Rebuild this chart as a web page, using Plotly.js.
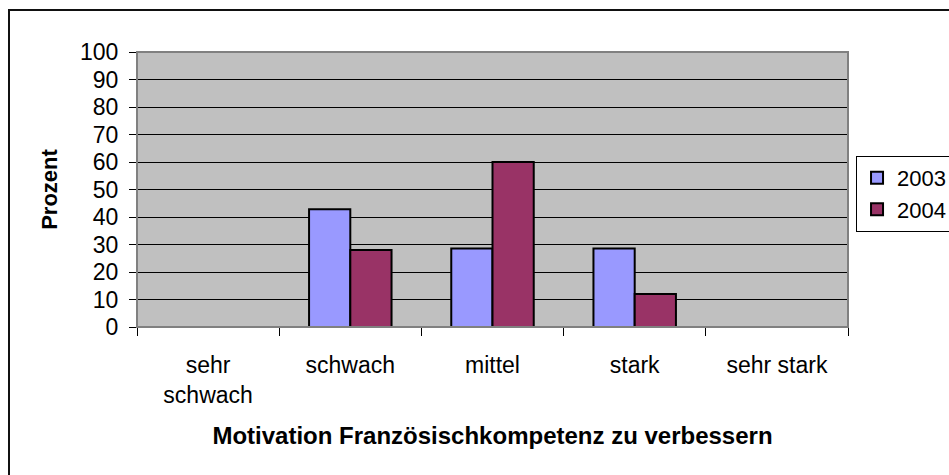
<!DOCTYPE html>
<html>
<head>
<meta charset="utf-8">
<script src="https://cdn.plot.ly/plotly-3.0.1.min.js"></script>
<style>
  html, body { margin: 0; padding: 0; background: #ffffff; overflow: hidden; }
  #frame { position: absolute; left: 8px; top: 9px; width: 1200px; height: 800px;
           border-left: 2px solid #111; border-top: 2px solid #111; }
  #chart { position: absolute; left: 0; top: 0; width: 949px; height: 475px; }
</style>
</head>
<body>
<div id="frame"></div>
<div id="chart"></div>
<script>
// ---- data ----
const categories = ["sehr schwach", "schwach", "mittel", "stark", "sehr stark"];
const tickLabels = ["sehr<br>schwach", "schwach", "mittel", "stark", "sehr stark"];
const seriesNames = ["2003", "2004"];
const values2003 = [0, 42.86, 28.57, 28.57, 0];
const values2004 = [0, 28, 60, 12, 0];
const yTicks = [0, 10, 20, 30, 40, 50, 60, 70, 80, 90, 100];
const xTitle = "Motivation Französischkompetenz zu verbessern";
const yTitle = "Prozent";

const FONT = "Arial, 'Liberation Sans', sans-serif";

const traces = [
  { type: "bar", name: seriesNames[0], x: categories, y: values2003,
    marker: { color: "#9999FF", line: { color: "#000000", width: 2 } },
    legendgroup: "a", hoverinfo: "x+y" },
  { type: "bar", name: seriesNames[1], x: categories, y: values2004,
    marker: { color: "#993366", line: { color: "#000000", width: 2 } },
    legendgroup: "b", hoverinfo: "x+y" }
];

const layout = {
  width: 949, height: 475,
  paper_bgcolor: "rgba(0,0,0,0)",
  plot_bgcolor: "#C0C0C0",
  margin: { l: 137, r: 101, t: 52, b: 148, autoexpand: false },
  font: { family: FONT, size: 23, color: "#000000" },
  barmode: "group",
  bargap: 0.42,
  bargroupgap: 0,
  showlegend: true,
  legend: {
    x: 1.0113, xanchor: "left", y: 0.622, yanchor: "top",
    bgcolor: "#ffffff", bordercolor: "#000000", borderwidth: 1,
    font: { family: FONT, size: 22, color: "#000000" },
    traceorder: "grouped", tracegroupgap: 0
  },
  xaxis: {
    type: "category",
    tickvals: categories, ticktext: tickLabels,
    tickson: "boundaries",
    ticks: "outside", ticklen: 8, tickwidth: 1, tickcolor: "#000000",
    showline: true, linecolor: "#000000", linewidth: 1,
    showgrid: false, zeroline: false,
    tickfont: { family: FONT, size: 23, color: "#000000" },
    ticklabelstandoff: 17,
    title: { text: xTitle, font: { family: FONT, size: 24, color: "#000000", weight: "bold" }, standoff: 20 }
  },
  yaxis: {
    range: [0, 100], tickvals: yTicks, ticktext: yTicks.map(String),
    ticks: "outside", ticklen: 7, tickwidth: 1, tickcolor: "#000000",
    showline: true, linecolor: "#000000", linewidth: 1,
    showgrid: true, gridcolor: "#000000", gridwidth: 1,
    zeroline: false,
    tickfont: { family: FONT, size: 23, color: "#000000" },
    ticklabelstandoff: 6,
    title: { text: yTitle, font: { family: FONT, size: 22, color: "#000000", weight: "bold" }, standoff: 16 }
  },
  shapes: [
    { type: "rect", xref: "paper", yref: "paper", x0: 0, x1: 1, y0: 0, y1: 1,
      line: { color: "#808080", width: 2 }, fillcolor: "rgba(0,0,0,0)", layer: "above" }
  ]
};

Plotly.newPlot("chart", traces, layout, { displayModeBar: false, staticPlot: true });
</script>
</body>
</html>
